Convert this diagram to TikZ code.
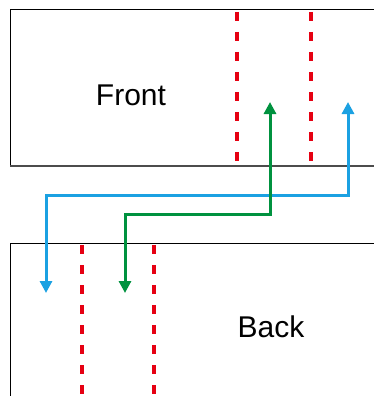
\documentclass[tikz,border=0pt]{standalone}
\usepackage{fontspec}
\setmainfont{Liberation Sans}
\usetikzlibrary{arrows.meta}
\definecolor{cutred}{RGB}{230,0,18}
\definecolor{flowblue}{RGB}{27,161,226}
\definecolor{flowgreen}{RGB}{0,146,63}
\tikzset{
  panel/.style={draw=black, line width=1pt, fill=white},
  cut/.style={draw=cutred, line width=4.5pt, dash pattern=on 9pt off 11pt},
  flow/.style={line width=3pt, {Triangle[length=12pt,width=12pt]}-{Triangle[length=12pt,width=12pt]}},
  lbl/.style={font=\fontsize{30}{32}\selectfont, inner sep=0pt}
}
\begin{document}
\begin{tikzpicture}[x=1pt,y=-1pt]
\useasboundingbox (0,0) rectangle (373,396);
% panels
\draw[panel] (390,10) -- (10,10) -- (10,166) -- (390,166);
\draw[draw=black!70, line width=1.3pt] (10,166) -- (390,166);
\draw[panel] (390,243) -- (10,243) -- (10,410);
\node[lbl] (front) at (131,95) {Front};
\node[lbl] (back) at (271,327) {Back};
% fold lines
\coordinate (fa) at (237,12);  \coordinate (fa2) at (237,166);
\coordinate (fb) at (311,12);  \coordinate (fb2) at (311,166);
\coordinate (ba) at (82,245);  \coordinate (ba2) at (82,400);
\coordinate (bb) at (154,245); \coordinate (bb2) at (154,400);
\draw[cut] (fa) -- (fa2);
\draw[cut] (fb) -- (fb2);
\draw[cut] (ba) -- (ba2);
\draw[cut] (bb) -- (bb2);
% flows between the panels
\coordinate (gtop) at (270,102);
\coordinate (gbot) at (125,293);
\coordinate (btop) at (348,102);
\coordinate (bbot) at (46,293);
\draw[flow, flowblue] (btop) -- (348,195) -- (46,195) -- (bbot);
\draw[flow, flowgreen] (gtop) -- (270,214) -- (125,214) -- (gbot);
\end{tikzpicture}
\end{document}
